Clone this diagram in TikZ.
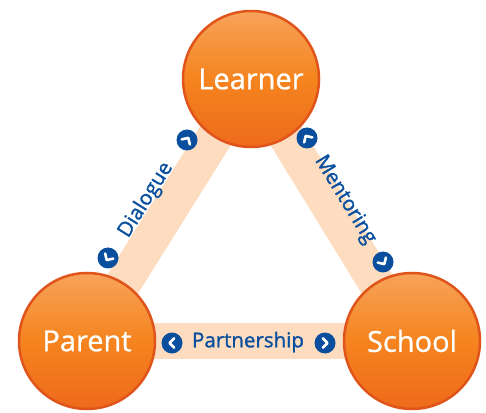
\documentclass[tikz,border=0pt]{standalone}
\usepackage{fontspec}
\setmainfont{Open Sans}
\newfontfamily\semif{Open Sans}[FakeBold=1.3]
\newfontfamily\medf{Open Sans}[FakeBold=0.8]
\usetikzlibrary{calc}
\definecolor{orTop}{HTML}{F7A35A}
\definecolor{orMid}{HTML}{F5841E}
\definecolor{orBot}{HTML}{EE6A1C}
\definecolor{orEdge}{HTML}{E0541B}
\definecolor{peach}{HTML}{FDDCC0}
\definecolor{navy}{HTML}{0A4F9D}
\tikzset{
  ball/.style={circle, minimum size=136pt, inner sep=0pt, draw=orEdge, line width=2.5pt,
    top color=orTop, bottom color=orBot, middle color=orMid,
    text=white, font=\medf\fontsize{29}{32}\selectfont},
  band/.style={draw=peach, line width=36pt},
  chev/.style={circle, fill=navy, minimum size=21pt, inner sep=0pt},
  chevline/.style={draw=white, line width=2.6pt, line cap=round, line join=round},
  bandlabel/.style={text=navy, font=\semif\fontsize{20.5}{23}\selectfont, inner sep=0pt}
}
\begin{document}
\begin{tikzpicture}[x=1pt,y=1pt]
\useasboundingbox (0,0) rectangle (486,412);
% circle centres
\coordinate (cL) at (251,333);
\coordinate (cP) at (87,71);
\coordinate (cS) at (412,71);
% bands
\draw[band] (cP) -- (cL);
\draw[band] (cL) -- (cS);
\draw[band] (cP) -- (cS);
% balls
\node[ball] (learner) at (cL) {Learner};
\node[ball] (parent) at (cP) {Parent};
\node[ball] (school) at (cS) {School};
% chevron buttons
\node[chev] (p1) at (172,69) {};
\node[chev] (p2) at (325,69) {};
\node[chev] (d1) at (108,154) {};
\node[chev] (d2) at (187,272) {};
\node[chev] (m1) at (307,274) {};
\node[chev] (m2) at (383,150) {};
\foreach \n/\a in {p1/180,p2/0,d1/238,d2/58,m1/121.6,m2/-58.4}{
  \draw[chevline, shift={(\n.center)}, rotate=\a] (-2.3,4.8) -- (2.5,0) -- (-2.3,-4.8);
}
% labels
\node[bandlabel] (lp) at (248,70) {Partnership};
\node[bandlabel, rotate=58] (ld) at (146,212) {Dialogue};
\node[bandlabel, rotate=-58.5] (lm) at (345,212) {Mentoring};
\end{tikzpicture}
\end{document}
